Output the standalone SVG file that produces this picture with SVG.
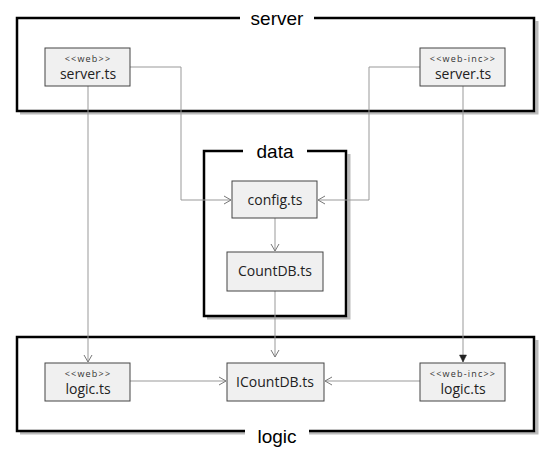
<svg xmlns="http://www.w3.org/2000/svg" width="557" height="451" viewBox="0 0 557 451">
<style>
.frame{fill:none;stroke:#000;stroke-width:2.5}
.shadow{fill:none;stroke:#bbb;stroke-width:3}
.title{font-family:"Liberation Sans",Arial,sans-serif;font-size:19px;fill:#000;text-anchor:middle}
.box{fill:#f0f0f0;stroke:#444;stroke-width:1}
.name{font-family:"Open Sans","Noto Sans",sans-serif;font-size:14px;fill:#222;text-anchor:middle}
.st{font-family:"Open Sans","Noto Sans",sans-serif;font-size:9px;fill:#333;text-anchor:middle;letter-spacing:1.2px}
.conn{fill:none;stroke:#999;stroke-width:1}
</style>
<defs>
<marker id="open" markerWidth="10" markerHeight="10" refX="8" refY="5" orient="auto" markerUnits="userSpaceOnUse">
<path d="M1,1 L8,5 L1,9" fill="none" stroke="#777" stroke-width="1"/>
</marker>
<marker id="filled" markerWidth="10" markerHeight="10" refX="8" refY="5" orient="auto" markerUnits="userSpaceOnUse">
<path d="M1,1.5 L8,5 L1,8.5 Z" fill="#222" stroke="#222" stroke-width="0.5"/>
</marker>
</defs>

<g id="frame-server">
<path class="shadow" d="M20,113 H537 V21"/>
<rect class="frame" x="17" y="18" width="517" height="93"/>
<rect x="240" y="8" width="74" height="20" fill="#fff"/>
<text class="title" x="277" y="25">server</text>
</g>

<g id="frame-data">
<path class="shadow" d="M207,318 H349 V154"/>
<rect class="frame" x="204" y="151" width="142" height="165"/>
<rect x="243" y="141" width="64" height="20" fill="#fff"/>
<text class="title" x="275" y="158">data</text>
</g>

<g id="frame-logic">
<path class="shadow" d="M20,433 H537 V340"/>
<rect class="frame" x="17" y="337" width="517" height="94"/>
<rect x="245" y="423" width="64" height="22" fill="#fff"/>
<text class="title" x="277" y="443">logic</text>
</g>

<g id="connectors">
<path class="conn" d="M130,67 H181 V200 H231" marker-end="url(#open)"/>
<path class="conn" d="M420,67 H369 V200 H318" marker-end="url(#open)"/>
<path class="conn" d="M88,86 V362" marker-end="url(#open)"/>
<path class="conn" d="M463,86 V362" stroke="#777" marker-end="url(#filled)"/>
<path class="conn" d="M275,218 V251" marker-end="url(#open)"/>
<path class="conn" d="M275,291 V357" marker-end="url(#open)"/>
<path class="conn" d="M130,381 H226" marker-end="url(#open)"/>
<path class="conn" d="M420,381 H325" marker-end="url(#open)"/>
</g>

<g id="server-web">
<rect class="box" x="45" y="48" width="85" height="38"/>
<text class="st" x="88" y="62">&lt;&lt;web&gt;&gt;</text>
<text class="name" x="88" y="79">server.ts</text>
</g>

<g id="server-web-inc">
<rect class="box" x="420" y="48" width="85" height="38"/>
<text class="st" x="463" y="62">&lt;&lt;web-inc&gt;&gt;</text>
<text class="name" x="463" y="79">server.ts</text>
</g>

<g id="config">
<rect class="box" x="232" y="181" width="85" height="37"/>
<text class="name" x="275" y="205">config.ts</text>
</g>

<g id="countdb">
<rect class="box" x="227" y="252" width="96" height="39"/>
<text class="name" x="275" y="276">CountDB.ts</text>
</g>

<g id="logic-web">
<rect class="box" x="45" y="363" width="85" height="38"/>
<text class="st" x="88" y="377">&lt;&lt;web&gt;&gt;</text>
<text class="name" x="88" y="394">logic.ts</text>
</g>

<g id="icountdb">
<rect class="box" x="227" y="363" width="97" height="38"/>
<text class="name" x="275" y="387">ICountDB.ts</text>
</g>

<g id="logic-web-inc">
<rect class="box" x="420" y="363" width="85" height="38"/>
<text class="st" x="463" y="377">&lt;&lt;web-inc&gt;&gt;</text>
<text class="name" x="463" y="394">logic.ts</text>
</g>
</svg>
